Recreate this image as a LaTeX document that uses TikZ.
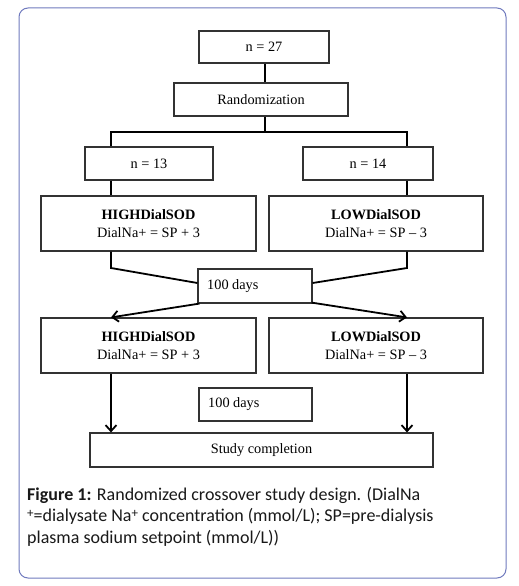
\documentclass[tikz,border=0pt]{standalone}
\usepackage{fontspec}
\setmainfont{Liberation Serif}
\newfontfamily\capfont{Carlito}
\usetikzlibrary{arrows.meta,calc}
\definecolor{framecol}{RGB}{112,122,190}
\definecolor{boxcol}{RGB}{50,50,50}
\begin{document}
\begin{tikzpicture}[x=1pt,y=-1pt,
  box/.style={draw=boxcol,line width=1.2pt,inner sep=0pt,align=center,
    font=\fontsize{14.3}{17.5}\selectfont},
  conn/.style={line width=1.8pt,black},
  arr/.style={conn,-{Straight Barb[length=6pt,width=11pt,line width=1.8pt]}},
  captxt/.style={anchor=base west,inner sep=0pt,font=\capfont\fontsize{18}{21}\selectfont,text=black!90}]
\useasboundingbox (0,0) rectangle (519,586);
\fill[white] (0,0) rectangle (519,586);
\draw[framecol,line width=1pt,rounded corners=9pt] (19,8) rectangle (506,578);

\node[box,minimum width=130pt,minimum height=32pt] (n27) at (264,47) {n = 27};
\node[box,minimum width=174pt,minimum height=33pt] (rand) at (261,99.5) {Randomization};
\node[box,minimum width=128pt,minimum height=33pt] (n13) at (149,163.5) {n = 13};
\node[box,minimum width=130pt,minimum height=33pt] (n14) at (368,163.5) {n = 14};
\node[box,minimum width=215pt,minimum height=55pt] (high1) at (148.5,223.5) {\textbf{HIGHDialSOD}\\DialNa+ = SP + 3};
\node[box,minimum width=214pt,minimum height=55pt] (low1) at (376,223.5) {\textbf{LOWDialSOD}\\DialNa+ = SP -- 3};
\node[box,minimum width=114pt,minimum height=34pt] (days1) at (255,286) {};
\node[anchor=west,inner sep=0pt,font=\fontsize{14.3}{17}\selectfont] (d1t) at (207,286) {100 days};
\node[box,minimum width=215pt,minimum height=55pt] (high2) at (148.5,345.5) {\textbf{HIGHDialSOD}\\DialNa+ = SP + 3};
\node[box,minimum width=214pt,minimum height=55pt] (low2) at (376,345.5) {\textbf{LOWDialSOD}\\DialNa+ = SP -- 3};
\node[box,minimum width=113pt,minimum height=33pt] (days2) at (255.5,404.5) {};
\node[anchor=west,inner sep=0pt,font=\fontsize{14.3}{17}\selectfont] (d2t) at (208,404.5) {100 days};
\node[box,minimum width=343pt,minimum height=34pt] (comp) at (261.5,450) {Study completion};

\coordinate (mid) at (265,132);
\coordinate (bl) at (111,132);
\coordinate (br) at (407,132);
\coordinate (kl) at (111,268);
\coordinate (kr) at (407,268);

\draw[conn] (mid |- n27.south) -- (mid |- rand.north);
\draw[conn] (mid |- rand.south) -- (mid);
\draw[conn] (bl |- n13.north) -- (bl) -- (br) -- (br |- n14.north);
\draw[conn] (bl |- n13.south) -- (bl |- high1.north);
\draw[conn] (br |- n14.south) -- (br |- low1.north);
\draw[conn] (bl |- high1.south) -- (kl) -- ($(days1.west)+(0,-3)$);
\draw[conn] (br |- low1.south) -- (kr) -- ($(days1.east)+(0,-3)$);
\draw[arr] ($(days1.south west)+(2,0)$) -- (bl |- high2.north);
\draw[arr] ($(days1.south east)+(-1,-1)$) -- (br |- low2.north);
\draw[arr] (bl |- high2.south) -- (bl |- comp.north);
\draw[arr] (br |- low2.south) -- (br |- comp.north);

\node[captxt] (cap1) at (27,500.5) {\textbf{Figure 1:} Randomized crossover study design. (DialNa};
\node[captxt] (cap2) at (27,521.5) {\raisebox{0.5ex}{\fontsize{13}{13}\selectfont +}=dialysate Na\raisebox{0.5ex}{\fontsize{13}{13}\selectfont +} concentration (mmol/L); SP=pre-dialysis};
\node[captxt] (cap3) at (27,543) {plasma sodium setpoint (mmol/L))};
\end{tikzpicture}
\end{document}
